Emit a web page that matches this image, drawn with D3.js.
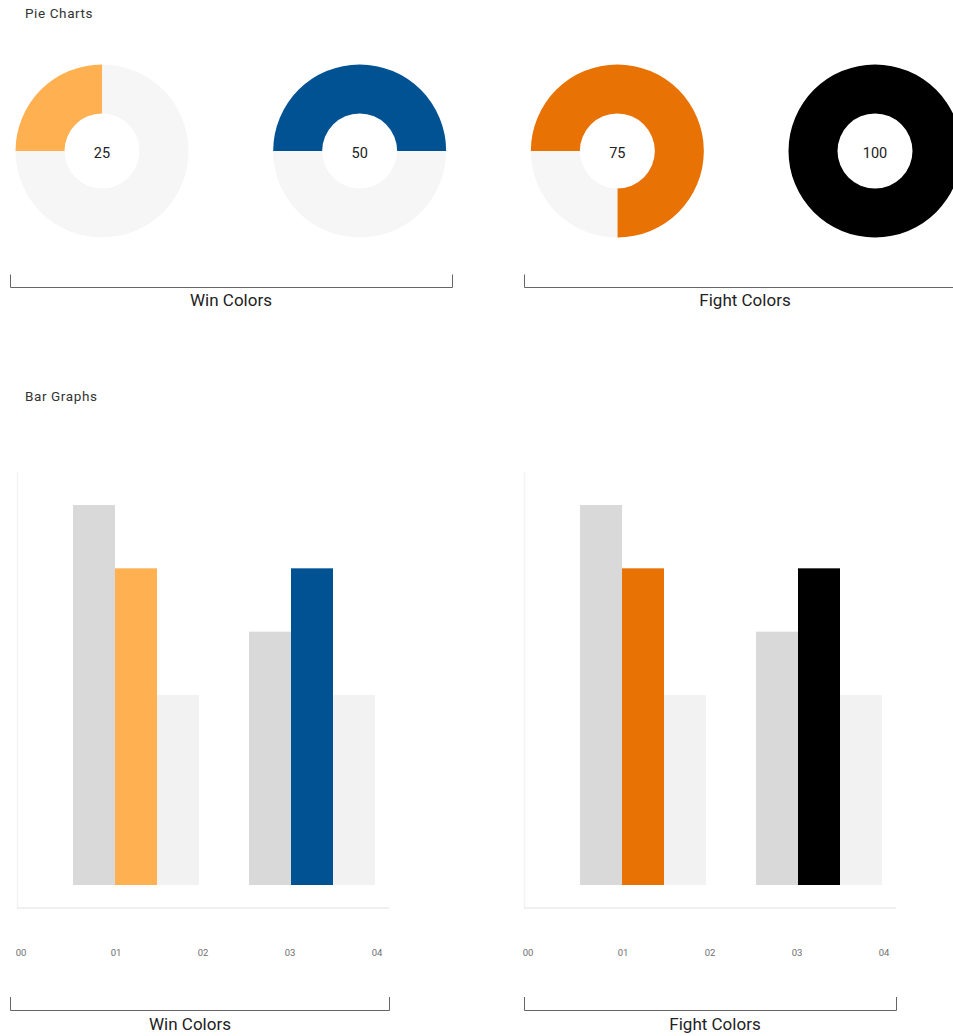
<!DOCTYPE html>
<html>
<head>
<meta charset="utf-8">
<script src="https://cdn.jsdelivr.net/npm/d3@7"></script>
<style>
  body { margin: 0; background: #fff; }
  svg { display: block; font-family: Roboto, "Noto Sans", sans-serif; }
</style>
</head>
<body>
<svg id="chart" width="953" height="1036"></svg>
<script>
// ---- data ----
const pieValues = [25, 50, 75, 100];
const pieColors = ["#FFB152", "#005293", "#E87203", "#000000"];
const pieRest = "#F6F6F6";
const pieGroups = ["Win Colors", "Fight Colors"];

const barGroups = ["A", "B"];
const barSeries = ["s1", "s2", "s3"];
const barValues = [[6, 5, 3], [4, 5, 3]];
const barCharts = ["Win Colors", "Fight Colors"];
const barAccent = [["#FFB152", "#005293"], ["#E87203", "#000000"]];
const barGrey = "#D9D9D9";
const barLight = "#F2F2F2";
const tickValues = [0, 1, 2, 3, 4];
const tickLabels = ["00", "01", "02", "03", "04"];

const svg = d3.select("#chart");

// titles
svg.append("text").attr("x", 25).attr("y", 18).attr("font-size", 13.5).attr("letter-spacing", 0.6).attr("fill", "#333").text("Pie Charts");
svg.append("text").attr("x", 25).attr("y", 401).attr("font-size", 13.5).attr("letter-spacing", 0.6).attr("fill", "#333").text("Bar Graphs");

// ---- pies ----
const pieX = d3.scalePoint().domain(d3.range(pieValues.length)).range([102, 875]);
const pieY = 151;
const arc = d3.arc().innerRadius(37.5).outerRadius(86.5);
const pie = d3.pie().sort(null).value(d => d).startAngle(-Math.PI / 2).endAngle(Math.PI * 1.5);

pieValues.forEach((v, i) => {
  const g = svg.append("g").attr("transform", `translate(${pieX(i)},${pieY})`);
  const arcs = pie([v, 100 - v]);
  g.selectAll("path").data(arcs).join("path")
    .attr("d", arc)
    .attr("fill", (d, j) => j === 0 ? pieColors[i] : pieRest);
  g.append("text").attr("text-anchor", "middle").attr("y", 1.5).attr("dy", "0.35em")
    .attr("font-size", 14.5).attr("fill", "#222").text(v);
});

// brackets under pies
function bracket(x0, x1, y, h) {
  svg.append("path")
    .attr("d", `M${x0},${y - h}V${y}H${x1}V${y - h}`)
    .attr("fill", "none").attr("stroke", "#666").attr("stroke-width", 1);
}
const pieBr = [[10, 452], [524, 966]];
pieGroups.forEach((name, i) => {
  bracket(pieBr[i][0] + 0.5, pieBr[i][1] + 0.5, 287.5, 13);
  svg.append("text").attr("x", (pieBr[i][0] + pieBr[i][1]) / 2).attr("y", 306)
    .attr("text-anchor", "middle").attr("font-size", 17).attr("fill", "#222").text(name);
});

// ---- bar charts ----
const chartOffsets = [0, 507];
const y = d3.scaleLinear().domain([0, 6]).range([885, 505]);
const x0 = d3.scaleBand().domain(barGroups).range([73, 375]).paddingInner(50 / 176).paddingOuter(0);
const x1 = d3.scaleBand().domain(barSeries).range([0, x0.bandwidth()]);
const tickX = d3.scaleLinear().domain([0, 4]).range([29, 377]);
const barLabelX = [190, 208];
const barBracketStart = [10, 17];

barCharts.forEach((name, c) => {
  const g = svg.append("g").attr("transform", `translate(${chartOffsets[c]},0)`);
  // axis lines
  g.append("line").attr("x1", 17.5).attr("x2", 17.5).attr("y1", 472).attr("y2", 908)
    .attr("stroke", "#F3F3F3").attr("stroke-width", 1.5);
  g.append("line").attr("x1", 17).attr("x2", 389).attr("y1", 908).attr("y2", 908)
    .attr("stroke", "#EBEBEB").attr("stroke-width", 1.5);
  barGroups.forEach((grp, gi) => {
    const colors = [barGrey, barAccent[c][gi], barLight];
    g.selectAll(null).data(barValues[gi]).join("rect")
      .attr("x", (d, k) => x0(grp) + x1(barSeries[k]))
      .attr("width", x1.bandwidth())
      .attr("y", d => y(d))
      .attr("height", d => y(0) - y(d))
      .attr("fill", (d, k) => colors[k]);
  });
  g.selectAll(null).data(tickValues).join("text")
    .attr("x", d => d === 0 ? tickX(d) - 8 : tickX(d)).attr("y", 956)
    .attr("text-anchor", "middle").attr("font-size", 9.5).attr("fill", "#6f6f6f")
    .text((d, k) => tickLabels[k]);
  const bx = barBracketStart[c];
  g.append("path").attr("d", `M${bx + 0.5},997V1010.5H389.5V997`)
    .attr("fill", "none").attr("stroke", "#666").attr("stroke-width", 1);
  g.append("text").attr("x", barLabelX[c]).attr("y", 1030)
    .attr("text-anchor", "middle").attr("font-size", 17).attr("fill", "#222").text(name);
});
</script>
</body>
</html>
